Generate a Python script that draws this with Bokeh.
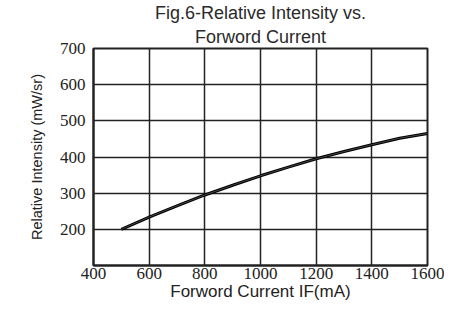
from bokeh.plotting import figure
from bokeh.models import FixedTicker, Range1d, Title
from bokeh.embed import file_html
from bokeh.resources import INLINE

current_ma = [500, 600, 700, 800, 900, 1000, 1100, 1200, 1300, 1400, 1500, 1600]
intensity = [200, 234, 265, 295, 322, 348, 372, 395, 415, 434, 452, 465]
x_ticks = [400, 600, 800, 1000, 1200, 1400, 1600]
y_ticks = [200, 300, 400, 500, 600, 700]
title_line1 = "Fig.6-Relative Intensity vs."
title_line2 = "Forword Current"

p = figure(frame_width=334, frame_height=217, output_backend="svg", toolbar_location=None,
           x_range=Range1d(400, 1600), y_range=Range1d(100, 700),
           min_border_left=93, min_border_right=17, min_border_top=0, min_border_bottom=0)

# the title added later sits nearer to the plot
p.title.text = title_line1
p.title.align = "center"
p.title.text_font = "Liberation Sans"
p.title.text_font_size = "18px"
p.title.text_font_style = "normal"
p.title.text_color = "#2a2a2a"
p.title.standoff = 0
p.title.offset = 0

t2 = Title(text=title_line2, align="center", text_font="Liberation Sans",
           text_font_size="18px", text_font_style="normal", text_color="#2a2a2a",
           standoff=4)
p.add_layout(t2, "above")

p.line(current_ma, intensity, line_color="black", line_width=3)
p.line(current_ma, intensity, line_color="#555555", line_width=0.8)

for ax in (p.xaxis[0], p.yaxis[0]):
    ax.major_tick_line_color = None
    ax.minor_tick_line_color = None
    ax.major_tick_out = 0
    ax.major_tick_in = 0
    ax.minor_tick_out = 0
    ax.axis_line_color = "#222222"
    ax.axis_line_width = 2
    ax.major_label_text_font = "serif"
    ax.major_label_text_font_size = "17px"
    ax.major_label_text_color = "#222222"
    ax.axis_label_text_font = "Liberation Sans"
    ax.axis_label_text_font_style = "normal"
    ax.axis_label_text_color = "#222222"

p.xaxis.ticker = FixedTicker(ticks=x_ticks)
p.yaxis.ticker = FixedTicker(ticks=y_ticks)
p.xaxis.axis_label = "Forword Current IF(mA)"
p.xaxis.axis_label_text_font_size = "17px"
p.xaxis.axis_label_standoff = 0
p.xaxis.major_label_standoff = 2
p.yaxis.axis_label = "Relative Intensity (mW/sr)"
p.yaxis.axis_label_text_font_size = "14.5px"
p.yaxis.axis_label_standoff = 12
p.yaxis.major_label_standoff = 8

p.xgrid.grid_line_color = "#222222"
p.ygrid.grid_line_color = "#222222"
p.xgrid.grid_line_width = 1.5
p.ygrid.grid_line_width = 1.5
p.outline_line_color = "#222222"
p.outline_line_width = 2
p.background_fill_color = "white"
p.border_fill_color = "white"

open("out.html", "w").write(file_html(p, INLINE))
